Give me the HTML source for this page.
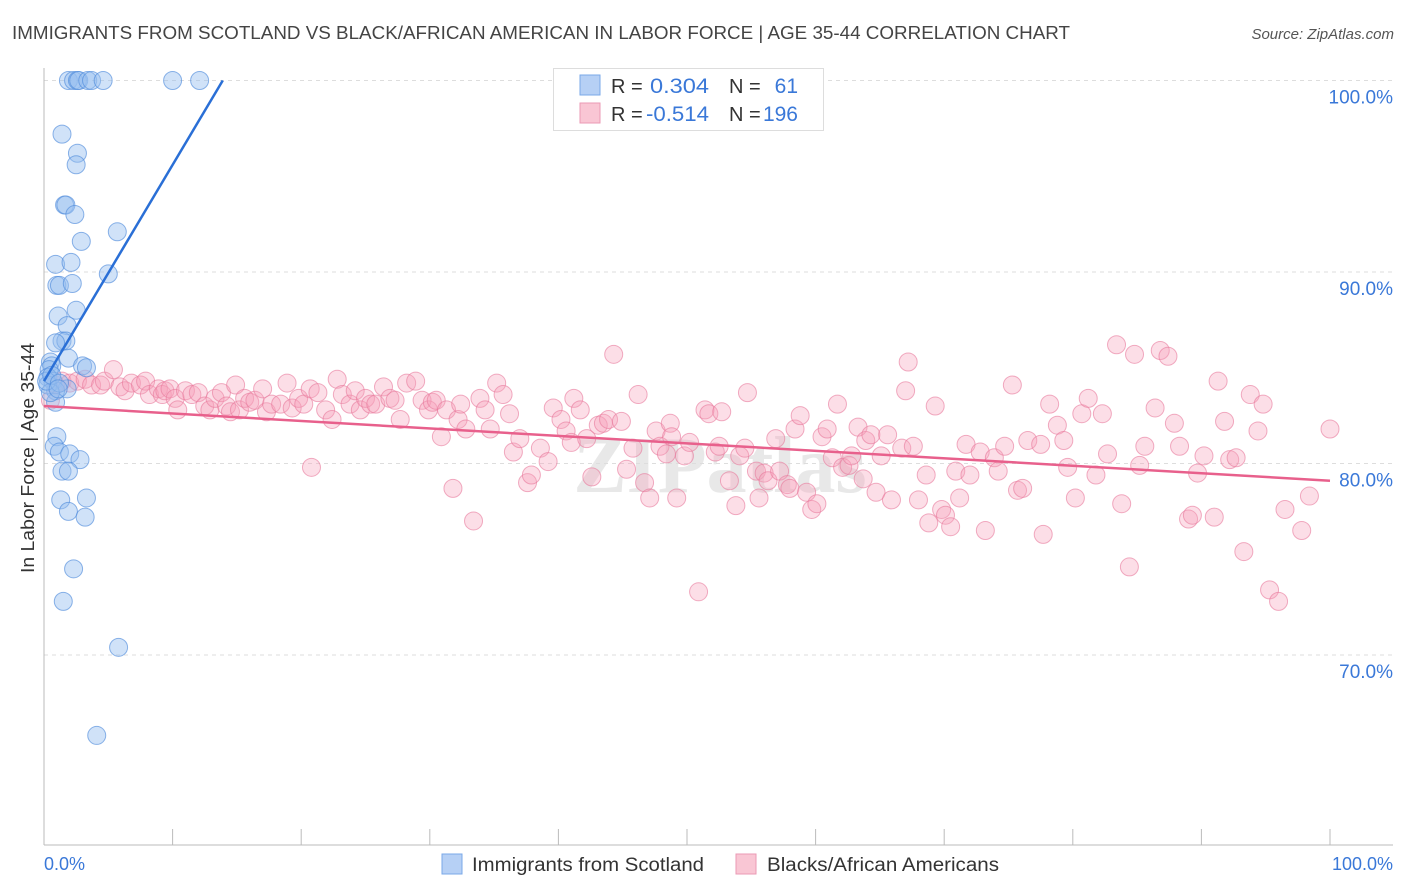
<!DOCTYPE html>
<html><head><meta charset="utf-8"><style>
body{margin:0;background:#fff;font-family:"Liberation Sans",sans-serif}
svg{display:block}
</style></head><body>
<svg id="chart" width="1406" height="892" xmlns="http://www.w3.org/2000/svg">
<text x="12" y="39" font-size="18" fill="#444" textLength="1058" lengthAdjust="spacingAndGlyphs">IMMIGRANTS FROM SCOTLAND VS BLACK/AFRICAN AMERICAN IN LABOR FORCE | AGE 35-44 CORRELATION CHART</text>
<text x="1394" y="39" font-size="15" fill="#555" font-style="italic" text-anchor="end">Source: ZipAtlas.com</text>
<text x="720" y="492" font-size="80" fill="#e8e8e8" text-anchor="middle" font-family="Liberation Serif,serif" font-weight="bold">ZIPatlas</text>
<g id="grid"></g>
<g id="axes"></g>
<g id="pts"></g>
<g id="lines"></g>
<text transform="translate(34,458) rotate(-90)" font-size="18" fill="#333" text-anchor="middle" textLength="230" lengthAdjust="spacingAndGlyphs">In Labor Force | Age 35-44</text>
<g>
<rect x="553.5" y="68.5" width="270" height="62" fill="#fff" stroke="#ddd"/>
<rect x="580" y="75" width="20" height="20" fill="#b6d0f5" stroke="#7aa8e8"/>
<rect x="580" y="103" width="20" height="20" fill="#f9c6d4" stroke="#eb9ab4"/>
<text x="611" y="93" font-size="20" fill="#333">R =</text>
<text x="650" y="93" font-size="21" fill="#3a78d8" textLength="59" lengthAdjust="spacingAndGlyphs">0.304</text>
<text x="729" y="93" font-size="20" fill="#333">N =</text>
<text x="798" y="93" font-size="21" fill="#3a78d8" text-anchor="end">61</text>
<text x="611" y="121" font-size="20" fill="#333">R =</text>
<text x="646" y="121" font-size="21" fill="#3a78d8" textLength="63" lengthAdjust="spacingAndGlyphs">-0.514</text>
<text x="729" y="121" font-size="20" fill="#333">N =</text>
<text x="798" y="121" font-size="21" fill="#3a78d8" text-anchor="end">196</text>
</g>
<g>
<rect x="442" y="854" width="20" height="20" fill="#b6d0f5" stroke="#7aa8e8"/>
<text x="472" y="871" font-size="19" fill="#333" textLength="232" lengthAdjust="spacingAndGlyphs">Immigrants from Scotland</text>
<rect x="736" y="854" width="20" height="20" fill="#f9c6d4" stroke="#eb9ab4"/>
<text x="767" y="871" font-size="19" fill="#333" textLength="232" lengthAdjust="spacingAndGlyphs">Blacks/African Americans</text>
</g>
<text x="44" y="870" font-size="18" fill="#3a78d8">0.0%</text>
<text x="1393" y="870" font-size="18" fill="#3a78d8" text-anchor="end">100.0%</text>
</svg>
<script>
const yTicks=[100,90,80,70];
const yTickLabels=["100.0%","90.0%","80.0%","70.0%"];
const xTicks=[10,20,30,40,50,60,70,80,90,100];
const blueX=[1.9,2.3,2.6,2.7,3.4,3.7,4.6,10.0,12.1,1.4,2.6,2.5,1.6,1.7,2.4,2.9,5.7,5.0,0.9,2.1,1.0,1.2,2.2,2.5,1.1,1.8,1.4,1.7,0.9,1.9,0.5,0.6,0.4,3.0,3.3,0.3,0.7,1.8,0.9,0.9,1.0,0.8,1.2,2.0,2.8,1.4,1.9,1.3,3.3,1.9,3.2,2.3,1.5,5.8,4.1,0.3,0.5,0.2,0.6,1.2,1.1];
const blueY=[100,100,100,100,100,100,100,100,100,97.2,96.2,95.6,93.5,93.5,93.0,91.6,92.1,89.9,90.4,90.5,89.3,89.3,89.4,88.0,87.7,87.2,86.4,86.4,86.3,85.5,85.3,85.1,84.9,85.1,85.0,84.5,84.3,83.9,83.8,83.2,81.4,80.9,80.6,80.5,80.2,79.6,79.6,78.1,78.2,77.5,77.2,74.5,72.8,70.4,65.8,84.1,83.7,84.3,84.6,84.2,83.9];
const pinkX=[0.5,0.9,1.4,2.0,2.6,3.2,3.7,4.4,4.7,5.4,5.9,6.3,6.8,7.5,7.9,8.2,8.9,9.2,9.4,9.8,10.2,10.4,11.0,11.5,12.0,12.5,12.9,13.3,13.8,14.2,14.5,14.9,15.2,15.6,16.0,16.4,17.0,17.3,17.7,18.4,18.9,19.3,19.8,20.2,20.7,20.8,21.3,21.9,22.4,22.8,23.2,23.8,24.2,24.6,25.0,25.4,25.8,26.4,26.9,27.3,27.7,28.2,28.9,29.4,29.9,30.2,30.5,30.9,31.3,31.8,32.2,32.4,32.8,33.4,33.9,34.3,34.7,35.2,35.7,36.2,36.5,37.0,37.6,37.9,38.6,39.2,39.6,40.2,40.6,41.0,41.2,41.7,42.2,42.6,43.1,43.5,43.9,44.3,44.9,45.3,45.8,46.2,46.7,47.1,47.6,47.9,48.4,48.7,48.8,49.2,49.8,50.2,50.9,51.4,51.7,52.2,52.5,52.7,53.3,53.8,54.1,54.5,54.7,55.4,55.6,56.0,56.3,56.9,57.2,57.8,58.0,58.4,58.8,59.3,59.7,60.1,60.5,60.9,61.3,61.7,62.1,62.6,62.8,63.3,63.7,63.9,64.3,64.7,65.1,65.6,65.9,66.7,67.0,67.2,67.6,68.0,68.6,68.8,69.3,69.8,70.1,70.5,70.9,71.2,71.7,72.0,72.8,73.2,73.9,74.2,74.7,75.3,75.7,76.1,76.5,77.5,77.7,78.2,78.8,79.3,79.6,80.2,80.7,81.2,81.8,82.3,82.7,83.4,83.8,84.4,84.8,85.2,85.6,86.4,86.8,87.4,87.9,88.3,89.0,89.3,89.7,90.2,91.0,91.3,91.8,92.2,92.7,93.3,93.8,94.4,94.8,95.3,96.0,96.5,97.8,98.4,100.0];
const pinkY=[83.3,84.1,84.3,84.2,84.3,84.4,84.1,84.1,84.3,84.9,84.0,83.8,84.2,84.1,84.3,83.6,83.9,83.6,83.8,83.9,83.4,82.8,83.8,83.6,83.7,83.0,82.8,83.4,83.7,83.0,82.7,84.1,82.8,83.4,83.2,83.3,83.9,82.7,83.1,83.1,84.2,82.9,83.4,83.1,83.9,79.8,83.7,82.8,82.3,84.4,83.6,83.1,83.8,82.8,83.4,83.1,83.1,84.0,83.4,83.3,82.3,84.2,84.3,83.3,82.8,83.2,83.3,81.4,82.8,78.7,82.3,83.1,81.8,77.0,83.4,82.8,81.8,84.2,83.6,82.6,80.6,81.3,79.0,79.4,80.8,80.1,82.9,82.3,81.7,81.1,83.4,82.8,81.3,79.3,82.0,82.1,82.3,85.7,82.2,79.7,80.8,83.6,79.0,78.2,81.7,80.9,80.5,82.1,81.4,78.2,80.4,81.1,73.3,82.8,82.6,80.6,80.9,82.7,79.1,77.8,80.4,80.8,83.7,79.6,78.2,79.5,79.1,81.3,79.6,78.9,78.7,81.8,82.5,78.5,77.6,77.9,81.4,81.8,80.3,83.1,79.8,79.9,80.4,81.9,79.2,81.2,81.5,78.5,80.4,81.5,78.1,80.8,83.8,85.3,80.9,78.1,79.4,76.9,83.0,77.6,77.3,76.7,79.6,78.2,81.0,79.4,80.6,76.5,80.3,79.6,80.9,84.1,78.6,78.7,81.2,81.0,76.3,83.1,82.0,81.2,79.8,78.2,82.6,83.4,79.4,82.6,80.5,86.2,77.9,74.6,85.7,79.9,80.9,82.9,85.9,85.6,82.1,80.9,77.1,77.3,79.5,80.4,77.2,84.3,82.2,80.2,80.3,75.4,83.6,81.7,83.1,73.4,72.8,77.6,76.5,78.3,81.8];
const blueFit=[[0,84.3],[13.9,100]];
const pinkFit=[[0,83.0],[100,79.1]];

const NS="http://www.w3.org/2000/svg";
const X0=44,X1=1330,YTOP=80.5,YPX=19.15;
const sx=v=>X0+(X1-X0)*v/100;
const sy=v=>YTOP+(100-v)*YPX;
function mk(tag,attrs,parent){const e=document.createElementNS(NS,tag);for(const k in attrs)e.setAttribute(k,attrs[k]);parent.appendChild(e);return e;}
const grid=document.getElementById('grid'),axes=document.getElementById('axes'),pts=document.getElementById('pts'),lines=document.getElementById('lines');
yTicks.forEach((t,i)=>{
  const l=mk('line',{x1:44,x2:1393,y1:sy(t),y2:sy(t),stroke:'#ddd','stroke-dasharray':'4,4'},grid);
  
  
  const tx=mk('text',{x:1393,y:sy(t)+23,'font-size':19,fill:'#3a78d8','text-anchor':'end'},grid);
  tx.textContent=yTickLabels[i];
  
  
});
const ya=mk('line',{x1:44,x2:44,y1:68,y2:845,stroke:'#bbb'},axes);


const xa=mk('line',{x1:44,x2:1393,y1:845,y2:845,stroke:'#bbb'},axes);


xTicks.forEach(t=>{
  const l=mk('line',{x1:sx(t),x2:sx(t),y1:829,y2:845,stroke:'#bbb'},axes);
  
  
});
pinkX.forEach((x,i)=>{
  const c=mk('circle',{cx:sx(x),cy:sy(pinkY[i]),r:9,fill:'rgba(245,160,185,0.35)',stroke:'rgba(232,120,155,0.6)','stroke-width':1},pts);
  
  
});
blueX.forEach((x,i)=>{
  const c=mk('circle',{cx:sx(x),cy:sy(blueY[i]),r:9,fill:'rgba(150,190,240,0.45)',stroke:'rgba(80,140,220,0.65)','stroke-width':1},pts);
  
  
});
const bl=mk('line',{x1:sx(blueFit[0][0]),y1:sy(blueFit[0][1]),x2:sx(blueFit[1][0]),y2:sy(blueFit[1][1]),stroke:'#2a6fd6','stroke-width':2.5},lines);


const pl=mk('line',{x1:sx(pinkFit[0][0]),y1:sy(pinkFit[0][1]),x2:sx(pinkFit[1][0]),y2:sy(pinkFit[1][1]),stroke:'#e8608c','stroke-width':2.5},lines);


</script>
</body></html>
